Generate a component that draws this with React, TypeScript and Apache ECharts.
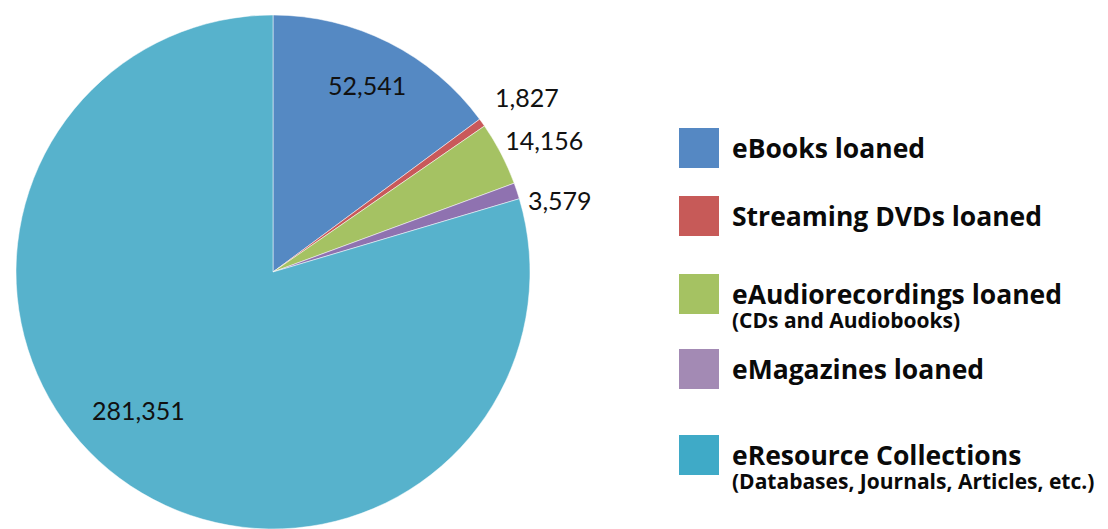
import React, { useEffect, useRef } from "react";
import * as echarts from "echarts";

const categories = [
  "eBooks loaned",
  "Streaming DVDs loaned",
  "eAudiorecordings loaned",
  "eMagazines loaned",
  "eResource Collections",
];
const subtitles = ["", "", "(CDs and Audiobooks)", "", "(Databases, Journals, Articles, etc.)"];
const values = [52541, 1827, 14156, 3579, 281351];

const sliceColors = ["#5589C3", "#C9595A", "#A5C263", "#8F72B0", "#57B2CC"];
const legendColors = ["#5588C3", "#C75A58", "#A5C262", "#A38AB4", "#3FAAC7"];
const labelPos = ["inside", "outside", "outside", "outside", "inside"];
const labelOffset = [
  [35, -70],
  [13, -26],
  [4, -14],
  [11, 9],
  [-56, 33],
];
const legendTop = [126, 194, 273, 347, 434];
const ICON = 42;
const MAIN_LINE = 28;
const SUB_LINE = 24;

export default function App() {
  const ref = useRef<HTMLDivElement>(null);
  useEffect(() => {
    if (!ref.current) return;
    const chart = echarts.init(ref.current, null, { renderer: "svg" });
    const subShift = (SUB_LINE * 2 + MAIN_LINE) / 2 - ICON / 2;
    const legends = categories.map((name, i) => {
      const sub = subtitles[i];
      return {
        data: [{ name, itemStyle: { color: legendColors[i] } }],
        left: 677,
        top: sub ? legendTop[i] - subShift : legendTop[i],
        padding: 0,
        itemWidth: ICON,
        itemHeight: ICON,
        icon: "rect",
        selectedMode: false,
        formatter: (n: string) => (sub ? `${n}\n{sub|${sub}}` : n),
        textStyle: {
          fontFamily: "Open Sans",
          fontWeight: "bold",
          fontSize: 26.5,
          lineHeight: MAIN_LINE,
          color: "#0a0a0a",
          padding: sub ? [SUB_LINE, 0, 0, 7] : [0, 0, 0, 7],
          rich: {
            sub: {
              fontFamily: "Open Sans",
              fontWeight: "bold",
              fontSize: 21,
              lineHeight: SUB_LINE,
              color: "#0a0a0a",
            },
          },
        },
      };
    });
    chart.setOption({
      animation: false,
      legend: legends,
      series: [
        {
          type: "pie",
          center: [273, 272],
          radius: 257,
          startAngle: 90,
          clockwise: true,
          avoidLabelOverlap: false,
          itemStyle: { borderColor: "#ffffff", borderWidth: 0.5 },
          labelLine: { show: false, length: 0, length2: 0 },
          label: {
            distanceToLabelLine: 0,
            fontFamily: "Lato",
            fontSize: 25,
            color: "#111111",
            formatter: (p: any) => Number(p.value).toLocaleString("en-US"),
          },
          labelLayout: (p: any) => ({
            dx: labelOffset[p.dataIndex][0],
            dy: labelOffset[p.dataIndex][1],
          }),
          emphasis: { disabled: true },
          data: categories.map((name, i) => ({
            name,
            value: values[i],
            itemStyle: { color: sliceColors[i] },
            label: { position: labelPos[i] },
          })),
        },
      ],
    });
    return () => chart.dispose();
  }, []);
  return (
    <div
      ref={ref}
      style={{ position: "fixed", left: 0, top: 0, width: 1108, height: 529, background: "#fff" }}
    />
  );
}
